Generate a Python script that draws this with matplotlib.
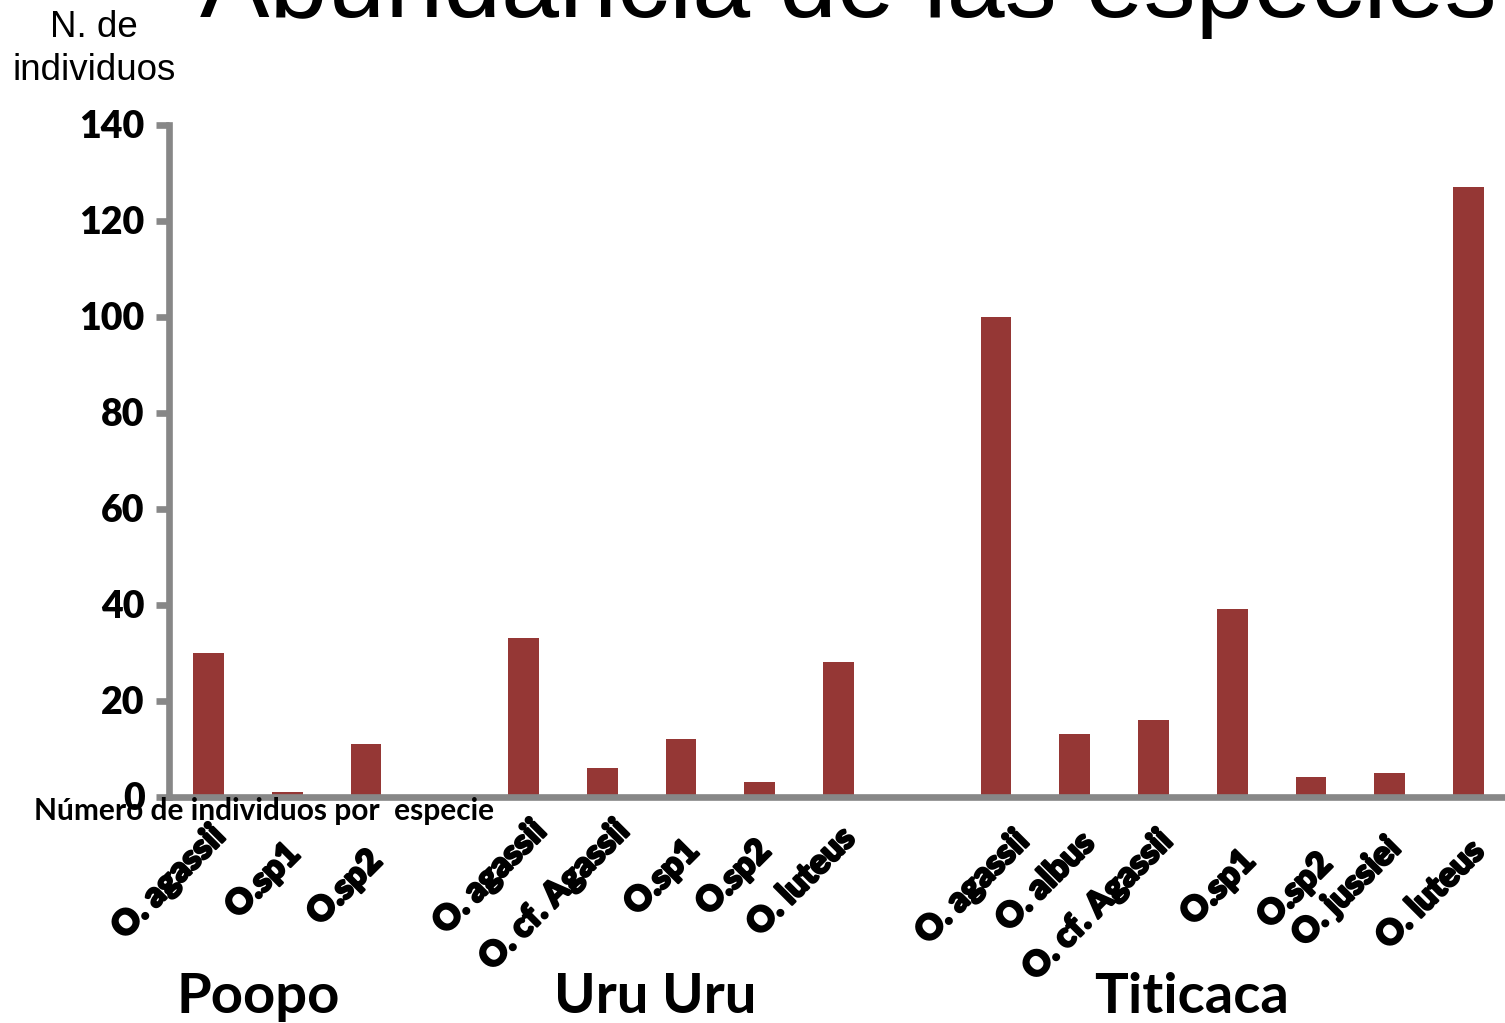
import matplotlib
matplotlib.use("Agg")
import matplotlib.pyplot as plt
from matplotlib import patheffects as pe

# --- data -------------------------------------------------------------
groups = ["Poopo", "Uru Uru", "Titicaca"]

poopo_species = ["O. agassii", "O.sp1", "O.sp2"]
poopo_counts = [30, 1, 11]

uru_species = ["O. agassii", "O. cf. Agassii", "O.sp1", "O.sp2", "O. luteus"]
uru_counts = [33, 6, 12, 3, 28]

titicaca_species = ["O. agassii", "O. albus", "O. cf. Agassii", "O.sp1",
                    "O.sp2", "O. jussiei", "O. luteus"]
titicaca_counts = [100, 13, 16, 39, 4, 5, 127]

y_ticks = [0, 20, 40, 60, 80, 100, 120, 140]

title = "Abundancia de las especies"
y_title = "N. de\nindividuos"
x_title = "Número de individuos por  especie"

# --- layout -----------------------------------------------------------
W, H = 1505, 1023
BAR = "#953735"
AXIS = "#878787"
LABEL_FONT = ["Lato", "DejaVu Sans"]

# per-label nudges of the rotated tick labels (pixels: right shift, depth below axis)
label_nudge = [(0, 23), (-4, 41), (-1, 48),
               (6, 18), (10, 18), (1, 38), (-6, 38), (0, 25),
               (16, 28), (3, 30), (2, 28), (6, 48), (4, 51), (-6, 35), (-1, 38)]

fig = plt.figure(figsize=(W / 100, H / 100), dpi=100)
ax = fig.add_axes([169 / W, 1 - 796.5 / H, 1339 / W, 672 / H])

# slot positions: one empty slot between lakes
species, counts, xpos = [], [], []
slot = 0
for sp, ct in [(poopo_species, poopo_counts), (uru_species, uru_counts),
               (titicaca_species, titicaca_counts)]:
    for s, c in zip(sp, ct):
        species.append(s)
        counts.append(c)
        xpos.append(slot)
        slot += 1
    slot += 1

ax.bar(xpos, counts, width=0.39, color=BAR, zorder=1)
ax.set_xlim(-0.5, 16.5)
ax.set_ylim(0, 140)

for side in ("top", "right"):
    ax.spines[side].set_visible(False)
for side in ("left", "bottom"):
    ax.spines[side].set_color(AXIS)
    ax.spines[side].set_linewidth(4.8)
    ax.spines[side].set_capstyle("projecting")

ax.set_xticks([])
ax.set_yticks(y_ticks)
ax.tick_params(axis="y", length=9.4, width=4.8, color=AXIS, pad=8,
               labelsize=27)
for t in ax.get_yticklabels():
    t.set_fontfamily(LABEL_FONT)
    t.set_fontweight("heavy")

# rotated species labels
for x, s, (dx, dy) in zip(xpos, species, label_nudge):
    ax.annotate(s, xy=(x, 0), xycoords="data",
                xytext=(dx * 0.72, -dy * 0.72), textcoords="offset points",
                rotation=45, ha="right", va="top", rotation_mode="anchor",
                fontsize=24.5, fontweight="black", family=LABEL_FONT,
                path_effects=[pe.withStroke(linewidth=1.8, foreground="black")],
                annotation_clip=False)

# lake names under the labels
for name, xc in zip(groups, [258, 655, 1192]):
    fig.text(xc / W, 1 - 1013 / H, name, ha="center", va="baseline",
             fontsize=40.5, fontweight="bold", family=LABEL_FONT)

fig.text(34 / W, 1 - 820 / H, x_title, ha="left", va="baseline",
         fontsize=21.5, fontweight="bold", family=LABEL_FONT)

fig.text(94 / W, 1 - 10 / H, y_title, ha="center", va="top",
         fontsize=26.5, family=["Liberation Sans", "DejaVu Sans"],
         linespacing=1.3)

fig.text(200 / W, 1 - 17 / H, title, ha="left", va="baseline",
         fontsize=75, family=["Liberation Sans", "DejaVu Sans"])

fig.savefig("out.png", dpi=100)
